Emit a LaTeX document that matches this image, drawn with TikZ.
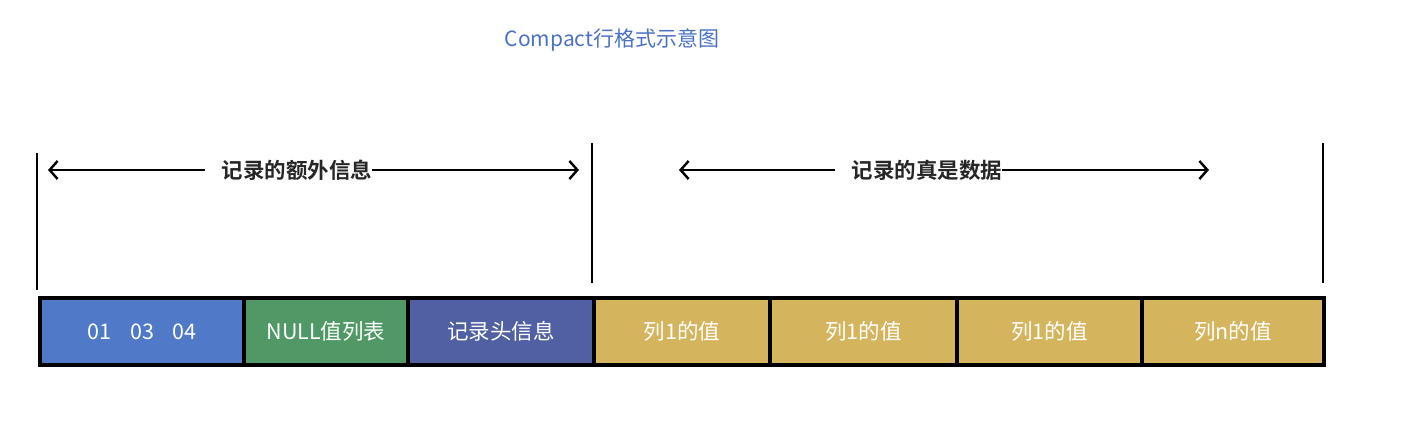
\documentclass[tikz,border=0pt]{standalone}
\usepackage{fontspec}
\setmainfont{Noto Sans CJK SC}
\newfontfamily\cjk{Noto Sans CJK SC}
\newfontfamily\cjkbold{Noto Sans CJK SC Bold}
\usetikzlibrary{arrows.meta}
\definecolor{cblue}{RGB}{80,121,200}
\definecolor{cgreen}{RGB}{80,152,102}
\definecolor{cpurple}{RGB}{81,96,162}
\definecolor{cgold}{RGB}{212,180,92}
\definecolor{ctitle}{RGB}{74,114,196}
\tikzset{
  cell/.style={draw=black, line width=4pt, minimum height=67pt, inner sep=0pt,
    text=white, font=\cjk\fontsize{21.5}{25}\selectfont, anchor=north west},
  bound/.style={line width=2.2pt, black},
  span/.style={line width=2.4pt, black, -{Straight Barb[length=8pt,width=18pt,line width=2.4pt]}},
  spanlabel/.style={font=\cjkbold\fontsize{21.5}{25}\selectfont, text=black!85, inner sep=0pt}
}
\begin{document}
\begin{tikzpicture}[x=1pt,y=-1pt]
\useasboundingbox (0,0) rectangle (1417,426);
\node[font=\cjk\fontsize{21}{24}\selectfont, text=ctitle] (title) at (612,40) {Compact行格式示意图};

\node[cell, fill=cblue, minimum width=204pt] (c1) at (38,296) {01\hspace{0.85em}03\hspace{0.85em}04};
\node[cell, fill=cgreen, minimum width=164pt] (c2) at (242,296) {NULL值列表};
\node[cell, fill=cpurple, minimum width=186pt] (c3) at (406,296) {记录头信息};
\node[cell, fill=cgold, minimum width=176pt] (c4) at (592,296) {列1的值};
\node[cell, fill=cgold, minimum width=187pt] (c5) at (768,296) {列1的值};
\node[cell, fill=cgold, minimum width=185pt] (c6) at (955,296) {列1的值};
\node[cell, fill=cgold, minimum width=182pt] (c7) at (1140,296) {列n的值};

\coordinate (b1t) at (37,153); \coordinate (b1b) at (37,290);
\coordinate (b2t) at (592,143); \coordinate (b2b) at (592,283);
\coordinate (b3t) at (1323,143); \coordinate (b3b) at (1323,283);
\draw[bound] (b1t) -- (b1b);
\draw[bound] (b2t) -- (b2b);
\draw[bound] (b3t) -- (b3b);

\node[spanlabel] (l1) at (297,170) {记录的额外信息};
\coordinate (a1l) at (48,170); \coordinate (a1g) at (205,170);
\coordinate (a1r) at (579,170);
\draw[span] (a1g) -- (a1l);
\draw[span] (l1.east) -- (a1r);

\node[spanlabel] (l2) at (927,170) {记录的真是数据};
\coordinate (a2l) at (679,170); \coordinate (a2g) at (835,170);
\coordinate (a2r) at (1209,170);
\draw[span] (a2g) -- (a2l);
\draw[span] (l2.east) -- (a2r);
\end{tikzpicture}
\end{document}
